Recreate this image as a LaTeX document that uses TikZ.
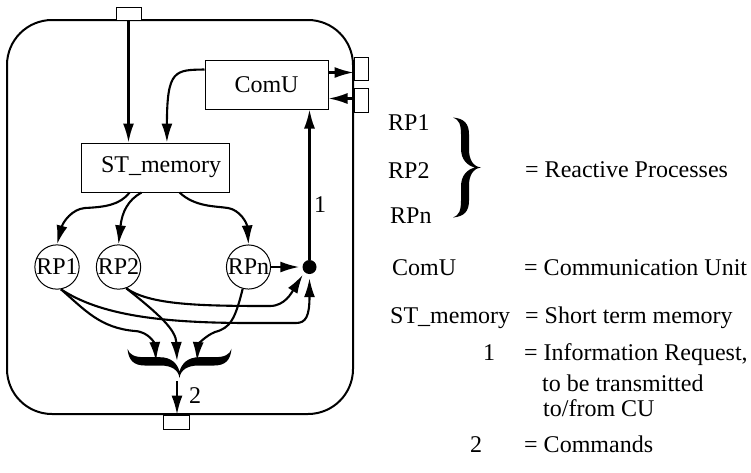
\documentclass[tikz,border=0pt]{standalone}
\usepackage{fontspec}
\setmainfont{Liberation Serif}
\usetikzlibrary{arrows.meta,calc}
\newcommand{\mybracefill}{%
 \fill (-28,-50) .. controls (-17,-49) and (-12,-44) .. (-12,-33) -- (-12,-18)
   .. controls (-12,-8) and (-8,-1) .. (0,0)
   .. controls (-8,1) and (-12,8) .. (-12,18) -- (-12,33)
   .. controls (-12,44) and (-17,49) .. (-28,50)
   .. controls (-22,48) and (-20,43) .. (-20,33) -- (-20,19)
   .. controls (-20,8) and (-14,2) .. (-6,0)
   .. controls (-14,-2) and (-20,-8) .. (-20,-19) -- (-20,-33)
   .. controls (-20,-43) and (-22,-48) .. (-28,-50) -- cycle;}
\begin{document}
\begin{tikzpicture}[x=1pt,y=-1pt,
  every node/.style={font=\fontsize{24}{28}\selectfont, inner sep=0pt},
  arr/.style={-{Latex[length=19pt,width=11pt]}, line width=2.1pt},
  boxnode/.style={draw, line width=1pt, fill=white},
  port/.style={draw, line width=0.9pt, fill=white},
  circ/.style={circle, draw, line width=1pt, minimum size=44pt},
  legend/.style={anchor=base west}
]
\useasboundingbox (0,0) rectangle (751,472);
% outer module
\draw[line width=2pt, rounded corners=45pt] (7,20) rectangle (353,414);
% ports
\node[port, minimum width=25pt, minimum height=13pt] (topport) at (128.5,13.5) {};
\node[port, minimum width=14pt, minimum height=23pt] (port1) at (361,68.5) {};
\node[port, minimum width=14pt, minimum height=24pt] (port2) at (361,100) {};
\node[port, minimum width=26pt, minimum height=14pt] (botport) at (176,422) {};
% boxes
\node[boxnode, minimum width=123pt, minimum height=49pt] (comu) at (266.5,84.5) {ComU};
\node[boxnode, minimum width=148pt, minimum height=49pt] (stm) at (155,167.5) {\hspace{12pt}ST\_memory};
% reactive processes
\node[circ] (rp1) at (57,267) {RP1};
\node[circ] (rp2) at (118.5,267) {RP2};
\node[circ] (rpn) at (248.5,267) {RPn};
\node[circle, fill, minimum size=14pt] (dot) at (309.5,267) {};
% bottom brace
\begin{scope}[shift={(179.5,378)}, rotate=-90, scale=1.04]
  \mybracefill
\end{scope}
\coordinate (bA) at (156,361);
\coordinate (bB) at (177,361);
\coordinate (bC) at (197,361);
\coordinate (bT) at (177,381);
% connectors
\draw[arr] (topport.south) -- (topport.south |- stm.north);
\coordinate (c0) at ($(comu.north west)!0.2!(comu.south west)$);
\coordinate (s0) at ($(stm.north west)!0.58!(stm.north east)$);
\draw[arr] (c0) .. controls (175,70) and (s0|-c0) .. (s0);
\coordinate (c1) at ($(comu.north east)!0.26!(comu.south east)$);
\coordinate (c2) at ($(comu.north east)!0.78!(comu.south east)$);
\draw[arr] (c1) -- (c1 -| port1.west);
\draw[arr] (c2 -| port2.west) -- (c2);
\draw[arr] (dot) -- (dot |- comu.south);
\node at (320,205) {1};
\coordinate (s1) at ($(stm.south west)+(49,0)$);
\coordinate (s2) at ($(stm.south west)+(61,0)$);
\coordinate (s3) at ($(stm.south west)+(99,0)$);
\draw[arr] (s1) .. controls (120,205) and (105,207) .. (85,208) .. controls (72,209) and (63,222) .. (rp1.north);
\draw[arr] (s2) .. controls (128,200) and (122,212) .. (rp2.north);
\draw[arr] (s3) .. controls (195,207) and (215,206) .. (228,208) .. controls (240,210) and (247,223) .. (rpn.north);
\draw[arr, shorten >=3pt] (rpn) -- (dot);
\draw[arr, shorten >=3pt] (rp2.-70) .. controls (150,305) and (200,306) .. (270,306) .. controls (285,306) and (292,292) .. (dot.-135);
\draw[arr, shorten >=4pt] (rp1.-80) .. controls (100,315) and (160,323) .. (250,323) -- (296,323) .. controls (306,323) and (309.5,316) .. (dot.south);
\draw[arr] (rp1.-80) .. controls (85,310) and (100,328) .. (135,331) .. controls (150,332) and (155,345) .. (bA);
\draw[arr] (rp2.-70) .. controls (160,315) and (176,330) .. (bB);
\draw[arr] (rpn.-105) .. controls (235,320) and (230,328) .. (215,332) .. controls (205,336) and (198,345) .. (bC);
\draw[arr] (bT) -- (bT |- botport.north);
\node at (195,396) {2};
% legend
\node[legend] (lrp1) at (388,130) {RP1};
\node[legend] (lrp2) at (388,178) {RP2};
\node[legend] (lrpn) at (390,223) {RPn};
\begin{scope}[shift={(481,167.5)}]
  \mybracefill
\end{scope}
\node[legend] (lrpd) at (525,177) {= Reactive Processes};
\node[legend] (lcomu) at (392,275) {ComU};
\node[legend] (lcomud) at (524,275) {= Communication Unit};
\node[legend] (lstm) at (390,323) {ST\_memory};
\node[legend] (lstmd) at (525,323) {= Short term memory};
\node[legend] (lone) at (483,360) {1};
\node[legend] (loned) at (524,360) {= Information Request,};
\node[legend] (lonee) at (542,391) {to be transmitted};
\node[legend] (lonef) at (543,416) {to/from CU};
\node[legend] (ltwo) at (470,452) {2};
\node[legend] (ltwod) at (524,452) {= Commands};
\end{tikzpicture}
\end{document}
